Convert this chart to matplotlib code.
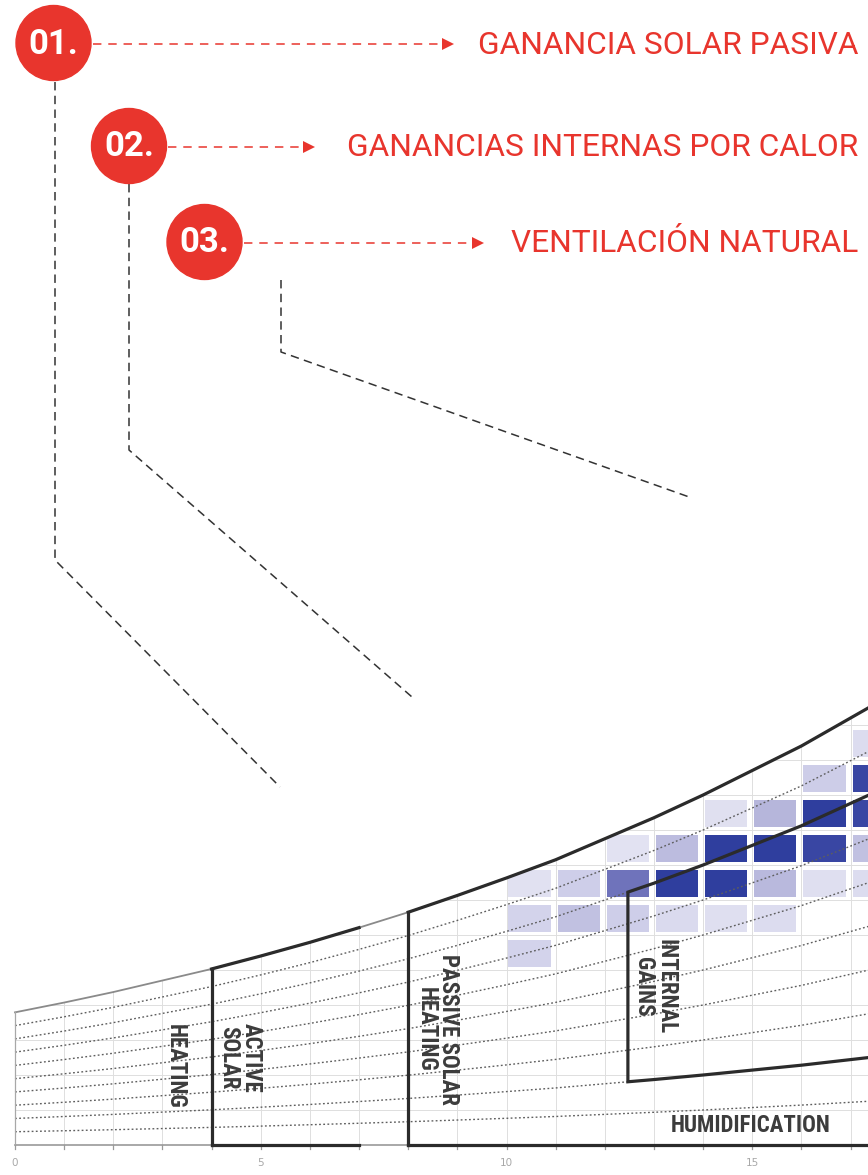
import numpy as np
import matplotlib
matplotlib.use("Agg")
import matplotlib.pyplot as plt
from matplotlib import font_manager as fm
from matplotlib.patches import Circle, Polygon
from matplotlib.colors import LinearSegmentedColormap

# ---------------- data ----------------
temps = list(range(0, 19))                       # dry-bulb temperature, degC
w_sat = [3.79, 4.07, 4.37, 4.70, 5.03, 5.40, 5.79, 6.21, 6.65, 7.13,
         7.63, 8.15, 8.75, 9.35, 10.0, 10.7, 11.4, 12.2, 13.0]   # g/kg
rh_levels = [0.1, 0.2, 0.3, 0.4, 0.5, 0.6, 0.7, 0.8, 0.9]
xtick_vals = [0, 5, 10, 15]
xtick_labels = ["0", "5", "10", "15"]

# hourly-frequency cells: rows = humidity bins (g/kg), cols = temperature bins (degC)
cell_w_bins = [5, 6, 7, 8, 9, 10, 11]
cell_t_bins = [10, 11, 12, 13, 14, 15, 16, 17]
cell_values = [
    [0.20, 0.00, 0.00, 0.00, 0.00, 0.00, 0.00, 0.00],   # 5-6
    [0.20, 0.33, 0.24, 0.14, 0.10, 0.12, 0.00, 0.00],   # 6-7
    [0.08, 0.24, 0.68, 0.97, 0.97, 0.38, 0.10, 0.12],   # 7-8
    [0.00, 0.00, 0.07, 0.36, 0.97, 0.97, 0.92, 0.33],   # 8-9
    [0.00, 0.00, 0.00, 0.00, 0.09, 0.40, 0.97, 0.92],   # 9-10
    [0.00, 0.00, 0.00, 0.00, 0.00, 0.00, 0.25, 0.92],   # 10-11
    [0.00, 0.00, 0.00, 0.00, 0.00, 0.00, 0.00, 0.12],   # 11-12
]

zone_labels = ["HEATING", "ACTIVE\nSOLAR", "PASSIVE SOLAR\nHEATING", "INTERNAL\nGAINS", "HUMIDIFICATION"]
callout_nums = ["01.", "02.", "03."]
callout_texts = ["GANANCIA SOLAR PASIVA", "GANANCIAS INTERNAS POR CALOR", "VENTILACIÓN NATURAL"]

# ---------------- fonts ----------------
_names = {f.name for f in fm.fontManager.ttflist}
if "Roboto Condensed" in _names:
    lab_font = dict(family=["Roboto Condensed", "DejaVu Sans"], fontsize=16.5)
elif "Liberation Sans Narrow" in _names:
    lab_font = dict(family=["Liberation Sans Narrow", "DejaVu Sans"], fontsize=17)
else:
    lab_font = dict(family=["Roboto", "DejaVu Sans"], fontsize=13.5)
lab_font.update(weight="bold", color="#3c3c3c")

# ---------------- figure ----------------
W, H = 868, 1175
fig = plt.figure(figsize=(W / 100, H / 100), dpi=100)
fig.patch.set_facecolor("white")

PX_DEG, X0PX = 49.15, 15.0
PX_G, Y0PX = 35.0, 1145.0
def dx(px): return (px - X0PX) / PX_DEG
def dy(py): return (Y0PX - py) / PX_G

ax = fig.add_axes([0, 0, 1, 1])
ax.set_xlim(dx(0), dx(W))
ax.set_ylim(dy(H), dy(0))
ax.axis("off")

T = np.array(temps, dtype=float)
WS = np.array(w_sat)
tmax = dx(W) + 0.5

# clip region under saturation curve
clip_poly = Polygon(np.column_stack([np.r_[T, T[-1], 0], np.r_[WS, 0, 0]]),
                    closed=True, transform=ax.transData, facecolor="none", edgecolor="none")
ax.add_patch(clip_poly)

# grid
grid_c = "#dedede"
for t in temps:
    ax.plot([t, t], [0, w_sat[t]], color=grid_c, lw=0.7, zorder=2)
for w in range(1, 14):
    l, = ax.plot([0, tmax], [w, w], color=grid_c, lw=0.7, zorder=2)
    l.set_clip_path(clip_poly)

# cells
cmap = LinearSegmentedColormap.from_list(
    "bl", ["#eaeaf5", "#cdcde8", "#a6a6d3", "#5a60b2", "#2a3a9c"])
for i, wb in enumerate(cell_w_bins):
    for j, tb in enumerate(cell_t_bins):
        v = cell_values[i][j]
        if v <= 0:
            continue
        bars = ax.bar(tb + 0.47, 0.78, width=0.86, bottom=wb + 0.08, color=cmap(v),
                      edgecolor="none", zorder=1)
        for b in bars:
            b.set_clip_path(clip_poly)

# RH lines
for rh in rh_levels:
    ax.plot(T, rh * WS, color="#5e5e5e", lw=1.0, dashes=(1.3, 1.7), zorder=3)

# saturation curve, base line, left edge
ax.plot(T, WS, color="#8a8a8a", lw=1.3, zorder=4)
ax.plot([0, tmax], [0, 0], color="#9a9a9a", lw=1.2, zorder=4)
ax.plot([0, 0], [0, w_sat[0]], color="#a8a8a8", lw=0.9, zorder=4)

# ticks
for t in temps:
    ax.plot([t, t], [0, -0.12], color="#9a9a9a", lw=0.9, zorder=4)
for v, lab in zip(xtick_vals, xtick_labels):
    ax.text(v, dy(1163), lab, ha="center", va="center", fontsize=7.5, color="#a8a8a8")

dark = "#2b2b2b"
thick = 2.3
# active solar zone
m = (T >= 4) & (T <= 7)
ax.plot(T[m], WS[m], color=dark, lw=thick, zorder=5)
ax.plot([4, 4], [0, w_sat[4]], color=dark, lw=thick, zorder=5)
ax.plot([4, 7], [0, 0], color=dark, lw=thick, zorder=5)
# passive solar heating zone
m = T >= 8
ax.plot(T[m], WS[m], color=dark, lw=thick, zorder=5)
ax.plot([8, 8], [0, w_sat[8]], color=dark, lw=thick, zorder=5)
ax.plot([8, tmax], [0, 0], color=dark, lw=thick, zorder=5)
# internal gains zone (20%-80% RH from 12.5 degC)
tg = 12.47
Tz = np.r_[tg, T[T > tg]]
Wz = np.interp(Tz, T, WS)
ax.plot(np.r_[Tz[::-1], tg, Tz], np.r_[0.8 * Wz[::-1], 0.2 * Wz[0], 0.2 * Wz],
        color=dark, lw=thick, zorder=5, solid_joinstyle="miter")

# zone labels
ax.text(dx(175), dy(1066), zone_labels[0], rotation=-90, ha="center", va="center",
        multialignment="center", **lab_font)
ax.text(dx(240), dy(1058), zone_labels[1], rotation=-90, ha="center", va="center",
        multialignment="center", linespacing=0.95, **lab_font)
ax.text(dx(437), dy(1029), zone_labels[2], rotation=-90, ha="center", va="center",
        multialignment="center", linespacing=0.95, **lab_font)
ax.text(dx(655), dy(987), zone_labels[3], rotation=-90, ha="center", va="center",
        multialignment="center", linespacing=0.95, **lab_font)
ax.text(dx(751), dy(1125), zone_labels[4], ha="center", va="center", **lab_font)

# ---------------- overlay (callouts) ----------------
ov = fig.add_axes([0, 0, 1, 1])
ov.set_xlim(0, W)
ov.set_ylim(H, 0)
ov.axis("off")
ov.patch.set_alpha(0)

red = "#e8352d"
circles = [(53.5, 43), (129, 146), (204.5, 242)]
line_ends = [455, 316, 485]
for (cx, cy), num, txt, le in zip(circles, callout_nums, callout_texts, line_ends):
    ov.add_patch(Circle((cx, cy), 37.5, color=red, zorder=5))
    ov.text(cx, cy + 1, num, ha="center", va="center", color="white",
            family="Roboto", weight="bold", fontsize=25, zorder=6)
    ov.plot([cx + 39, le - 10], [cy + 1, cy + 1], color=red, lw=1.1,
            dashes=(5.5, 4.5), zorder=5)
    ov.plot([le - 7], [cy + 1], marker=">", color=red, markersize=8, zorder=5,
            markeredgewidth=0)
    ov.text(858, cy + 2, txt, ha="right", va="center", color=red,
            family="Roboto", fontsize=22.8)

# leader lines
leaders = [
    [(55, 82), (55, 560), (280, 787)],
    [(129, 184), (129, 450), (412, 697)],
    [(281, 280), (281, 352), (692, 498)],
]
for pts in leaders:
    xs, ys = zip(*pts)
    ov.plot(xs, ys, color="#333333", lw=1.1, dashes=(5.5, 3.5), zorder=4)

fig.savefig("out.png", dpi=100, facecolor="white")
